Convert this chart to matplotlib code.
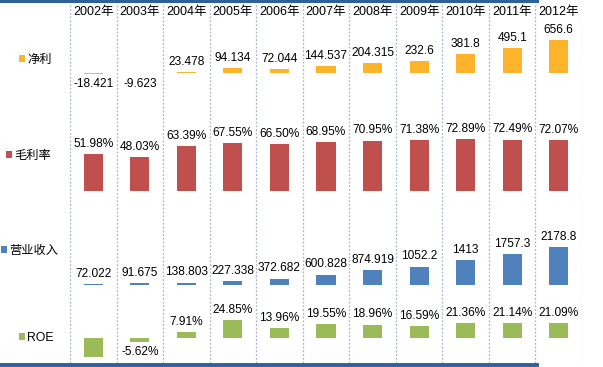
import matplotlib
matplotlib.use('Agg')
import matplotlib.pyplot as plt
from matplotlib.lines import Line2D

plt.rcParams['font.family'] = ['Liberation Sans', 'Noto Sans CJK SC']
plt.rcParams['font.size'] = 8.6

years = ['2002年', '2003年', '2004年', '2005年', '2006年', '2007年',
         '2008年', '2009年', '2010年', '2011年', '2012年']
net_profit = [-18.421, -9.623, 23.478, 94.134, 72.044, 144.537,
              204.315, 232.6, 381.8, 495.1, 656.6]
gross_margin = [51.98, 48.03, 63.39, 67.55, 66.50, 68.95,
                70.95, 71.38, 72.89, 72.49, 72.07]
revenue = [72.022, 91.675, 138.803, 227.338, 372.682, 600.828,
           874.919, 1052.2, 1413, 1757.3, 2178.8]
roe = [-26.4, -5.62, 7.91, 24.85, 13.96, 19.55,
       18.96, 16.59, 21.36, 21.14, 21.09]

W, H = 603, 367
fig = plt.figure(figsize=(W / 100, H / 100), dpi=100)

x = list(range(len(years)))
left = 70 / W
width = 512 / W

# background: column separators and year headers
bg = fig.add_axes([left, 0, width, 1])
bg.set_xlim(-0.5, len(years) - 0.5)
bg.set_ylim(0, 1)
bg.axis('off')
for i in range(len(years) + 1):
    bg.axvline(i - 0.5, ymin=0.01, ymax=0.99, color='#a4b6cc', lw=0.9, ls=(0, (1.5, 1.5)))
for i, y in enumerate(years):
    bg.text(i, 1 - 12 / H, y, ha='center', va='center', fontsize=9)

rows = [
    # name, values, color, band(px), ylim, labels, legend (x px, y px)
    ('净利', net_profit, '#fdb42a', (18, 108), (-700, 1100),
     [f'{v:g}' for v in net_profit], (19, 60)),
    ('毛利率', gross_margin, '#c0504d', (120, 230), (-55, 100),
     [f'{v:.2f}%' for v in gross_margin], (6, 156)),
    ('营业收入', revenue, '#4f81bd', (232, 300), (-860, 3040),
     [f'{v:g}' for v in revenue], (1, 251)),
    ('ROE', roe, '#9bbb59', (300, 367), (-41, 53.7),
     [''] + [f'{v:.2f}%' for v in roe[1:]], (19, 338)),
]

for name, vals, color, band, ylim, labels, leg in rows:
    ax = fig.add_axes([left, 1 - band[1] / H, width, (band[1] - band[0]) / H])
    ax.set_xlim(-0.5, len(years) - 0.5)
    ax.set_ylim(*ylim)
    ax.axis('off')
    ax.patch.set_alpha(0)
    bars = ax.bar(x, vals, width=0.41, color=color, label=name)
    ax.bar_label(bars, labels=labels, padding=3, fontsize=8.6, clip_on=False)
    ax.legend(loc='center left', bbox_to_anchor=(leg[0] / W, 1 - leg[1] / H),
              bbox_transform=fig.transFigure, frameon=False, fontsize=8.8,
              handlelength=0.45, handleheight=0.45, handletextpad=0.2,
              borderpad=0, borderaxespad=0)

# top and bottom rules
fig.add_artist(Line2D([0, 537 / W], [1 - 1.2 / H, 1 - 1.2 / H], color='#2e619c', lw=2.2))
fig.add_artist(Line2D([0, 537 / W], [1 - 364.5 / H, 1 - 364.5 / H], color='#2e619c', lw=2.8))

fig.savefig('out.png', dpi=100)
